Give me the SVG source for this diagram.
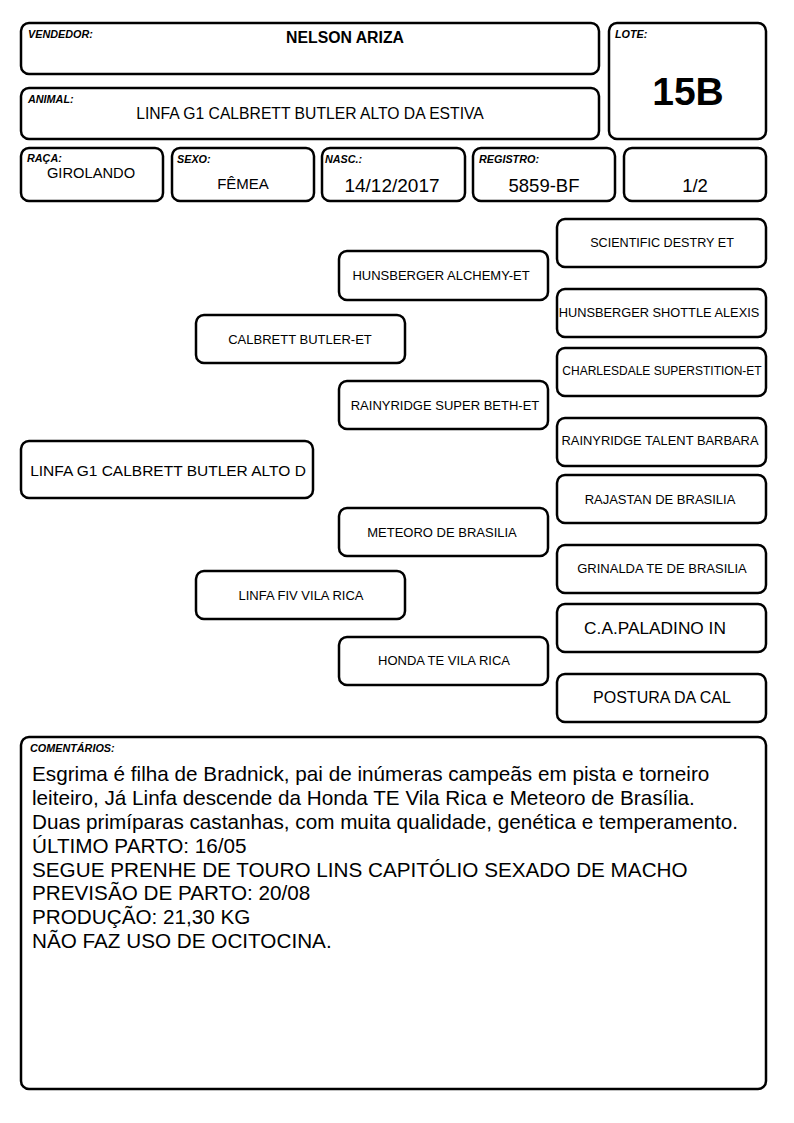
<svg xmlns="http://www.w3.org/2000/svg" width="794" height="1123" viewBox="0 0 794 1123">
<style>
.b{fill:#fff;stroke:#000;stroke-width:2.5}
.lbl{font-family:"Liberation Sans",Arial,sans-serif;font-size:10.8px;font-weight:bold;font-style:italic;fill:#000}
.t{font-family:"Liberation Sans",Arial,sans-serif;fill:#000;text-anchor:middle}
.p{font-family:"Liberation Sans",Arial,sans-serif;font-size:13px;fill:#000;text-anchor:middle}
.pl{font-family:"Liberation Sans",Arial,sans-serif;font-size:16px;fill:#000;text-anchor:middle}
.c{font-family:"Liberation Sans",Arial,sans-serif;font-size:20.7px;fill:#000}
</style>
<rect width="794" height="1123" fill="#fff"/>
<g id="vendedor"><rect class="b" x="21" y="23" width="578" height="51" rx="8"/><text class="lbl" x="28" y="38">VENDEDOR:</text><text class="t" x="345" y="43" font-size="15.8" font-weight="bold">NELSON ARIZA</text></g>
<g id="animal"><rect class="b" x="21" y="88" width="578" height="51" rx="8"/><text class="lbl" x="28" y="103">ANIMAL:</text><text class="t" x="310" y="119" font-size="15.7">LINFA G1 CALBRETT BUTLER ALTO DA ESTIVA</text></g>
<g id="lote"><rect class="b" x="609" y="23" width="157" height="116" rx="8"/><text class="lbl" x="615" y="38">LOTE:</text><text class="t" x="688" y="105" font-size="39" font-weight="bold">15B</text></g>
<g id="raca"><rect class="b" x="21" y="148" width="142" height="53" rx="8"/><text class="lbl" x="27" y="162">RAÇA:</text><text class="t" x="91" y="178" font-size="14.7">GIROLANDO</text></g>
<g id="sexo"><rect class="b" x="172" y="148" width="142" height="53" rx="8"/><text class="lbl" x="177" y="163">SEXO:</text><text class="t" x="243" y="189" font-size="15">FÊMEA</text></g>
<g id="nasc"><rect class="b" x="322" y="148" width="143" height="53" rx="8"/><text class="lbl" x="325" y="163">NASC.:</text><text class="t" x="392" y="192" font-size="19">14/12/2017</text></g>
<g id="registro"><rect class="b" x="473" y="148" width="142" height="53" rx="8"/><text class="lbl" x="479" y="163">REGISTRO:</text><text class="t" x="544" y="192" font-size="18.5">5859-BF</text></g>
<g id="fracao"><rect class="b" x="624" y="148" width="142" height="53" rx="8"/><text class="t" x="695" y="192" font-size="18.5">1/2</text></g>
<g id="n-scientific"><rect class="b" x="557" y="219" width="209" height="48" rx="8"/><text class="p" x="662" y="247" style="font-size:12.6px">SCIENTIFIC DESTRY ET</text></g>
<g id="n-alchemy"><rect class="b" x="339" y="251" width="209" height="49" rx="8"/><text class="p" x="441" y="280">HUNSBERGER ALCHEMY-ET</text></g>
<g id="n-alexis"><rect class="b" x="557" y="289" width="209" height="48" rx="8"/><text class="p" x="659" y="317" style="font-size:12.8px">HUNSBERGER SHOTTLE ALEXIS</text></g>
<g id="n-calbrett"><rect class="b" x="196" y="315" width="209" height="48" rx="8"/><text class="p" x="300" y="344">CALBRETT BUTLER-ET</text></g>
<g id="n-charlesdale"><rect class="b" x="557" y="348" width="209" height="48" rx="8"/><text class="p" x="662" y="375" style="font-size:12px">CHARLESDALE SUPERSTITION-ET</text></g>
<g id="n-beth"><rect class="b" x="339" y="381" width="209" height="48" rx="8"/><text class="p" x="445" y="410">RAINYRIDGE SUPER BETH-ET</text></g>
<g id="n-barbara"><rect class="b" x="557" y="418" width="209" height="48" rx="8"/><text class="p" x="660" y="445" style="font-size:12.9px">RAINYRIDGE TALENT BARBARA</text></g>
<g id="n-linfa"><rect class="b" x="21" y="441" width="292" height="57" rx="8"/><text class="pl" x="168" y="476" style="font-size:15.5px">LINFA G1 CALBRETT BUTLER ALTO D</text></g>
<g id="n-rajastan"><rect class="b" x="557" y="475" width="209" height="48" rx="8"/><text class="p" x="660" y="504">RAJASTAN DE BRASILIA</text></g>
<g id="n-meteoro"><rect class="b" x="339" y="508" width="209" height="48" rx="8"/><text class="p" x="442" y="537">METEORO DE BRASILIA</text></g>
<g id="n-grinalda"><rect class="b" x="557" y="545" width="209" height="48" rx="8"/><text class="p" x="662" y="573">GRINALDA TE DE BRASILIA</text></g>
<g id="n-linfafiv"><rect class="b" x="196" y="571" width="209" height="48" rx="8"/><text class="p" x="301" y="600">LINFA FIV VILA RICA</text></g>
<g id="n-paladino"><rect class="b" x="557" y="604" width="209" height="48" rx="8"/><text class="pl" x="655" y="634" style="font-size:17.3px">C.A.PALADINO IN</text></g>
<g id="n-honda"><rect class="b" x="339" y="637" width="209" height="48" rx="8"/><text class="p" x="444" y="665">HONDA TE VILA RICA</text></g>
<g id="n-postura"><rect class="b" x="557" y="674" width="209" height="48" rx="8"/><text class="pl" x="662" y="703">POSTURA DA CAL</text></g>
<g id="connectors"></g>
<g id="comentarios"><rect class="b" x="21" y="737" width="745" height="352" rx="8"/><text class="lbl" x="30" y="752">COMENTÁRIOS:</text>
<text class="c" x="32" y="781">Esgrima é filha de Bradnick, pai de inúmeras campeãs em pista e torneiro</text>
<text class="c" x="32" y="805">leiteiro, Já Linfa descende da Honda TE Vila Rica e Meteoro de Brasília.</text>
<text class="c" x="32" y="829">Duas primíparas castanhas, com muita qualidade, genética e temperamento.</text>
<text class="c" x="32" y="853">ÚLTIMO PARTO: 16/05</text>
<text class="c" x="32" y="877">SEGUE PRENHE DE TOURO LINS CAPITÓLIO SEXADO DE MACHO</text>
<text class="c" x="32" y="900">PREVISÃO DE PARTO: 20/08</text>
<text class="c" x="32" y="924">PRODUÇÃO: 21,30 KG</text>
<text class="c" x="32" y="948">NÃO FAZ USO DE OCITOCINA.</text>
</g>
</svg>
